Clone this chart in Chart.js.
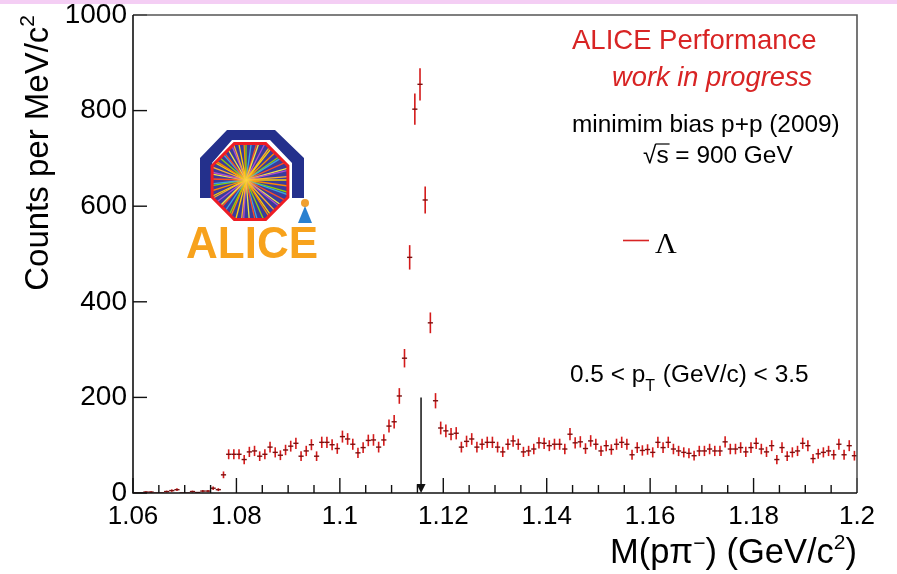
<!DOCTYPE html>
<html><head><meta charset="utf-8">
<script src="https://cdn.jsdelivr.net/npm/chart.js@4.4.1/dist/chart.umd.min.js"></script>
<style>html,body{margin:0;padding:0;background:#fff;}canvas{display:block;}</style>
</head><body>
<canvas id="c" width="897" height="574"></canvas>
<script>
// ---- data ----
const binLow = 1.06;
const binWidth = 0.001;
const counts = [
  0,0,2,2,0,0,3,5,7,0,
  0,3,1,4,4,10,7,38,81,81,
  81,70,86,88,77,81,96,85,79,90,
  98,104,77,88,101,77,106,106,101,93,
  118,113,102,84,95,110,111,96,111,140,
  149,203,282,493,803,855,613,356,193,136,
  130,123,125,96,108,113,96,102,106,106,
  96,86,102,109,102,86,88,92,105,104,
  99,102,102,92,123,105,107,93,109,102,
  88,99,91,102,106,102,80,95,89,91,
  85,106,95,106,92,88,85,83,78,88,
  88,92,88,88,107,92,92,95,86,95,
  104,92,86,99,70,95,77,85,88,104,
  99,72,82,85,88,80,102,80,99,78
];
const xTickValues = [1.06,1.08,1.10,1.12,1.14,1.16,1.18,1.20];
const xTickLabels = ['1.06','1.08','1.1','1.12','1.14','1.16','1.18','1.2'];
const yTickValues = [0,200,400,600,800,1000];
const yTickLabels = ['0','200','400','600','800','1000'];
const lambdaMass = 1.1157;
const arrowTop = 200;
const errScale = 1.15; // Poisson errors (sqrt N), as drawn

const points = counts.map((v,i)=>({x: binLow + (i+0.5)*binWidth, y: v}));
const SANS = '"Liberation Sans", Arial, sans-serif';
const RED = '#d82424';

const errorBars = {
  id:'errorBars',
  afterDatasetsDraw(chart){
    const {ctx, scales:{x,y}, chartArea:a} = chart;
    ctx.save();
    ctx.beginPath(); ctx.rect(a.left, a.top, a.right-a.left, a.bottom-a.top); ctx.clip();
    chart.data.datasets[0].data.forEach(p=>{
      const e = Math.sqrt(p.y)*errScale;
      const px = x.getPixelForValue(p.x), py = y.getPixelForValue(p.y);
      ctx.strokeStyle = '#d41a1a'; ctx.lineWidth = 1.6;
      ctx.beginPath(); ctx.moveTo(px, y.getPixelForValue(p.y+e)); ctx.lineTo(px, y.getPixelForValue(p.y-e)); ctx.stroke();
      ctx.strokeStyle = '#7a1010'; ctx.lineWidth = 1.4;
      ctx.beginPath(); ctx.moveTo(x.getPixelForValue(p.x-binWidth/2), py); ctx.lineTo(x.getPixelForValue(p.x+binWidth/2), py); ctx.stroke();
    });
    ctx.restore();
  }
};

function drawLogo(ctx){
  ctx.save();
  // blue arch
  ctx.fillStyle = '#24308c';
  ctx.beginPath();
  ctx.moveTo(200,198); ctx.lineTo(200,158); ctx.lineTo(227,130); ctx.lineTo(275,130);
  ctx.lineTo(304,158); ctx.lineTo(304,198); ctx.lineTo(292,198); ctx.lineTo(292,163);
  ctx.lineTo(270,140); ctx.lineTo(232,140); ctx.lineTo(212,163); ctx.lineTo(212,198);
  ctx.closePath(); ctx.fill();
  // red octagon with starburst
  const cx=250, cy=181.5, R=41;
  const oct=[];
  for(let k=0;k<8;k++){const t=(22.5+45*k)*Math.PI/180; oct.push([cx+R*Math.cos(t), cy+R*Math.sin(t)]);}
  ctx.beginPath(); oct.forEach((p,i)=>i?ctx.lineTo(p[0],p[1]):ctx.moveTo(p[0],p[1])); ctx.closePath();
  ctx.fillStyle='#3a3c9c'; ctx.fill();
  ctx.save(); ctx.clip();
  const cols=['#ffd200','#ff8a00','#8fd400','#3aa8e0','#ff5020','#f2e640','#b050d0','#ffb030'];
  for(let k=0;k<56;k++){
    const t=k*2*Math.PI/56+0.03*(k%3);
    ctx.strokeStyle=cols[k%cols.length]; ctx.lineWidth=1.3;
    ctx.beginPath(); ctx.moveTo(246,180); ctx.lineTo(246+60*Math.cos(t),180+60*Math.sin(t)); ctx.stroke();
  }
  const g=ctx.createRadialGradient(246,180,0,246,180,14);
  g.addColorStop(0,'rgba(255,220,60,0.95)'); g.addColorStop(1,'rgba(255,160,40,0)');
  ctx.fillStyle=g; ctx.fillRect(226,160,40,40);
  ctx.restore();
  ctx.beginPath(); oct.forEach((p,i)=>i?ctx.lineTo(p[0],p[1]):ctx.moveTo(p[0],p[1])); ctx.closePath();
  ctx.strokeStyle='#ee1c24'; ctx.lineWidth=3; ctx.stroke();
  // little figure
  ctx.fillStyle='#f0a030'; ctx.beginPath(); ctx.arc(305,203,4,0,2*Math.PI); ctx.fill();
  ctx.fillStyle='#2a80d0'; ctx.beginPath(); ctx.moveTo(305,206); ctx.lineTo(298,223); ctx.lineTo(312,223); ctx.closePath(); ctx.fill();
  // ALICE text
  ctx.fillStyle='#f7a21c'; ctx.font='bold 44px '+SANS; ctx.textBaseline='alphabetic'; ctx.textAlign='left';
  ctx.fillText('ALICE',186,258);
  ctx.restore();
}

const decor = {
  id:'decor',
  beforeDraw(chart){
    const ctx=chart.ctx; ctx.save();
    ctx.fillStyle='#fff'; ctx.fillRect(0,0,chart.width,chart.height);
    ctx.fillStyle='#f4cef4'; ctx.fillRect(0,0,chart.width,4);
    ctx.restore();
  },
  afterDraw(chart){
    const {ctx, scales:{x,y}, chartArea:a} = chart;
    ctx.save();
    // ticks
    ctx.strokeStyle='#111'; ctx.lineWidth=1.4;
    xTickValues.forEach((v,i)=>{
      const px=x.getPixelForValue(v);
      ctx.beginPath(); ctx.moveTo(px,a.bottom); ctx.lineTo(px,a.bottom-15); ctx.stroke();
      if(i<xTickValues.length-1){
        for(let k=1;k<4;k++){
          const q=x.getPixelForValue(v+k*0.005);
          ctx.beginPath(); ctx.moveTo(q,a.bottom); ctx.lineTo(q,a.bottom-8); ctx.stroke();
        }
      }
    });
    yTickValues.forEach(v=>{
      const py=y.getPixelForValue(v);
      ctx.beginPath(); ctx.moveTo(a.left,py); ctx.lineTo(a.left+14,py); ctx.stroke();
    });
    // frame
    ctx.lineWidth=1.6; ctx.strokeStyle='#555';
    ctx.beginPath(); ctx.moveTo(a.left,a.top); ctx.lineTo(a.right,a.top); ctx.lineTo(a.right,a.bottom); ctx.stroke();
    ctx.strokeStyle='#111';
    ctx.beginPath(); ctx.moveTo(a.left,a.top); ctx.lineTo(a.left,a.bottom); ctx.lineTo(a.right,a.bottom); ctx.stroke();
    // arrow at Lambda mass
    const ax=x.getPixelForValue(lambdaMass), y1=y.getPixelForValue(arrowTop), y2=y.getPixelForValue(0);
    ctx.strokeStyle='#111'; ctx.lineWidth=1.5;
    ctx.beginPath(); ctx.moveTo(ax,y1); ctx.lineTo(ax,y2-6); ctx.stroke();
    ctx.fillStyle='#111'; ctx.beginPath(); ctx.moveTo(ax,y2); ctx.lineTo(ax-4.5,y2-9); ctx.lineTo(ax+4.5,y2-9); ctx.closePath(); ctx.fill();
    // logo
    drawLogo(ctx);
    // annotations
    ctx.textAlign='left'; ctx.textBaseline='alphabetic';
    ctx.fillStyle=RED; ctx.font='27.5px '+SANS; ctx.fillText('ALICE Performance',572,49);
    ctx.font='italic 27.3px '+SANS; ctx.fillText('work in progress',612,86);
    ctx.fillStyle='#000'; ctx.font='24.4px '+SANS; ctx.fillText('minimim bias p+p (2009)',572,132);
    ctx.fillText('\u221As = 900 GeV',643,163);
    const wr=ctx.measureText('\u221A').width, ws=ctx.measureText('s').width;
    ctx.strokeStyle='#000'; ctx.lineWidth=1.2;
    ctx.beginPath(); ctx.moveTo(643+wr-1,144); ctx.lineTo(643+wr+ws+1,144); ctx.stroke();
    // legend
    ctx.strokeStyle=RED; ctx.lineWidth=1.6;
    ctx.beginPath(); ctx.moveTo(623,240.5); ctx.lineTo(649,240.5); ctx.stroke();
    ctx.fillStyle='#000'; ctx.font='30px "Liberation Serif", "Times New Roman", serif'; ctx.fillText('\u039B',655,253);
    // pT range
    ctx.font='24.4px '+SANS; let px0=570;
    ctx.fillText('0.5 < p',px0,382); px0+=ctx.measureText('0.5 < p').width;
    ctx.font='16px '+SANS; ctx.fillText('T',px0,391); px0+=ctx.measureText('T').width+1;
    ctx.font='24.4px '+SANS; ctx.fillText(' (GeV/c) < 3.5',px0,382);
    // x title
    const parts=[['M(p\u03C0',0,34.5],['\u2212',-13,21],[') (GeV/c',0,34.5],['2',-14,21],[')',0,34.5]];
    let tw=0; parts.forEach(p=>{ctx.font=p[2]+'px '+SANS; tw+=ctx.measureText(p[0]).width;});
    let tx=857-tw;
    parts.forEach(p=>{ctx.font=p[2]+'px '+SANS; ctx.fillText(p[0],tx,563+p[1]); tx+=ctx.measureText(p[0]).width;});
    // y title
    ctx.save(); ctx.translate(48,15); ctx.rotate(-Math.PI/2);
    ctx.font='21px '+SANS; const w2=ctx.measureText('2').width;
    ctx.textAlign='right'; ctx.fillText('2',0,-14);
    ctx.font='33px '+SANS; ctx.fillText('Counts per MeV/c',-w2,0);
    ctx.restore();
    ctx.restore();
  }
};

new Chart(document.getElementById('c'), {
  type:'scatter',
  data:{datasets:[{label:'\u039B', data:points, pointRadius:0, borderColor:RED, backgroundColor:RED, showLine:false}]},
  options:{
    responsive:false, animation:false, devicePixelRatio:1,
    layout:{padding:{top:15,right:40,left:0,bottom:0}},
    plugins:{legend:{display:false}, tooltip:{enabled:false}},
    scales:{
      x:{type:'linear', min:1.06, max:1.2,
        afterBuildTicks(s){ s.ticks = xTickValues.map(v=>({value:v})); },
        afterFit(s){ s.height = 81; s.paddingLeft = 0; s.paddingRight = 0; },
        ticks:{autoSkip:false, maxRotation:0, padding:8, color:'#000', font:{family:SANS,size:26},
          callback:(v)=>xTickLabels[xTickValues.findIndex(t=>Math.abs(t-v)<1e-9)]},
        grid:{display:false, drawTicks:false}, border:{display:false}},
      y:{min:0, max:1000,
        afterBuildTicks(s){ s.ticks = yTickValues.map(v=>({value:v})); },
        afterFit(s){ s.width = 133; s.paddingTop = 0; s.paddingBottom = 0; },
        ticks:{padding:6, color:'#000', font:{family:SANS,size:28},
          callback:(v)=>yTickLabels[yTickValues.indexOf(v)]},
        grid:{display:false, drawTicks:false}, border:{display:false}}
    }
  },
  plugins:[decor, errorBars]
});
</script>
</body></html>
